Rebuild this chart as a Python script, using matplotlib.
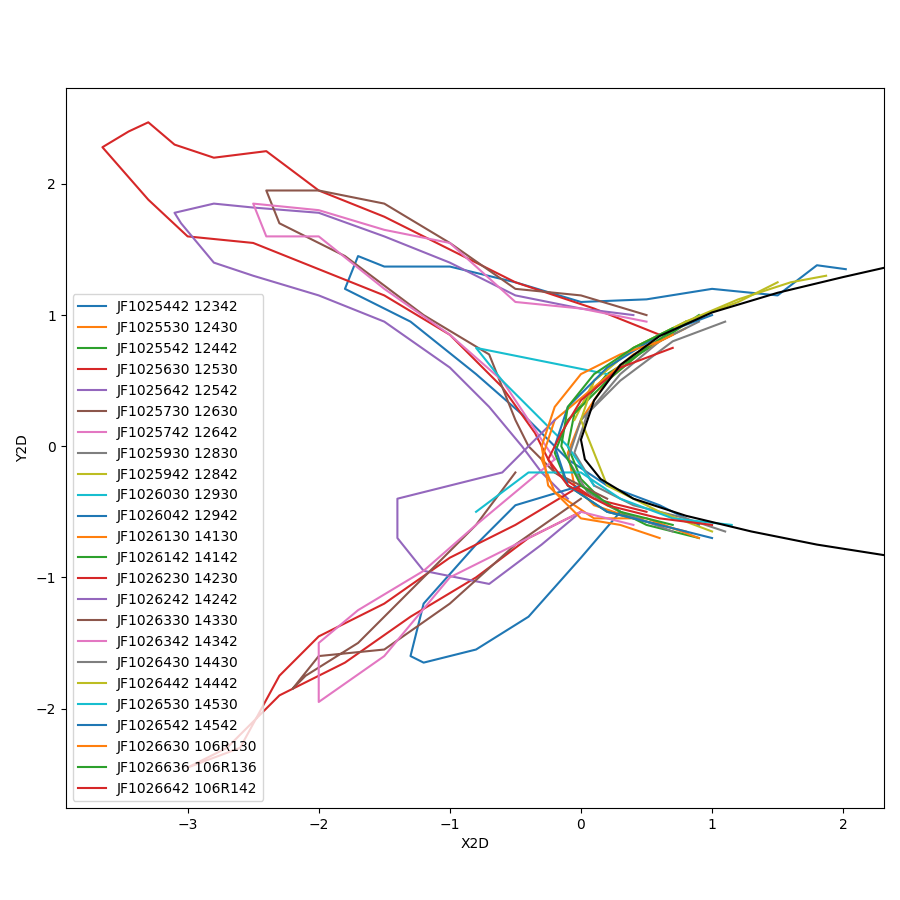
import matplotlib
matplotlib.use("Agg")
import matplotlib.pyplot as plt

labels = ["JF1025442 12342", "JF1025530 12430", "JF1025542 12442", "JF1025630 12530",
          "JF1025642 12542", "JF1025730 12630", "JF1025742 12642", "JF1025930 12830",
          "JF1025942 12842", "JF1026030 12930", "JF1026042 12942", "JF1026130 14130",
          "JF1026142 14142", "JF1026230 14230", "JF1026242 14242", "JF1026330 14330",
          "JF1026342 14342", "JF1026430 14430", "JF1026442 14442", "JF1026530 14530",
          "JF1026542 14542", "JF1026630 106R130", "JF1026636 106R136", "JF1026642 106R142"]

# rough trajectories (x list, y list)
tracks_x = [
    [2.02, 1.8, 1.5, 1.0, 0.5, 0.0, -0.5, -1.0, -1.5, -1.7, -1.8, -1.3, -0.8, -0.4, -0.1, 0.2, 0.6, 0.9],
    [0.8, 0.5, 0.2, 0.0, -0.1, -0.05, 0.1, 0.4, 0.8],
    [0.9, 0.6, 0.2, -0.05, -0.1, 0.0, 0.2, 0.5, 0.9],
    [0.6, 0.1, -0.5, -1.0, -1.5, -2.0, -2.4, -2.8, -3.1, -3.3, -3.45, -3.65, -3.3, -3.0, -2.5, -2.0, -1.5, -1.0, -0.6, -0.35, -0.2, 0.1, 0.5],
    [0.4, 0.0, -0.5, -1.0, -1.5, -2.0, -2.5, -2.8, -3.1, -3.05, -2.8, -2.5, -2.0, -1.5, -1.0, -0.7, -0.45, -0.3, -0.1],
    [0.5, 0.0, -0.5, -1.0, -1.5, -2.0, -2.4, -2.3, -1.8, -1.2, -0.7, -0.5, -0.4, -0.2, 0.2],
    [0.5, 0.0, -0.5, -1.0, -1.5, -2.0, -2.5, -2.4, -2.0, -1.5, -1.0, -0.6, -0.4, -0.2],
    [0.9, 0.6, 0.3, 0.05, -0.05, 0.1, 0.4, 0.8, 1.1],
    [1.87, 1.6, 1.2, 0.8, 0.4, 0.1, -0.05],
    [0.2, -0.3, -0.8, -0.6, -0.3, -0.1, 0.1],
    [0.0, -0.5, -0.8, -1.2, -1.3, -1.2, -0.8, -0.4, 0.0, 0.3],
    [0.7, 0.4, 0.1, -0.2, -0.3, -0.2, 0.1, 0.5, 0.9],
    [0.8, 0.5, 0.2, -0.1, -0.2, -0.1, 0.2, 0.6],
    [0.0, -0.5, -1.0, -1.5, -2.0, -2.3, -2.6, -3.0, -2.7, -2.3, -1.8, -1.3, -0.8, -0.4, 0.0],
    [0.0, -0.3, -0.7, -1.2, -1.4, -1.4, -1.0, -0.6, -0.4, -0.2],
    [0.0, -0.5, -1.0, -1.5, -2.0, -2.2, -2.1, -1.7, -1.2, -0.8, -0.5],
    [0.4, 0.0, -0.5, -1.0, -1.5, -2.0, -2.0, -1.7, -1.2, -0.8, -0.5, -0.2],
    [1.1, 0.7, 0.3, 0.0, -0.1, 0.05, 0.3, 0.7],
    [1.5, 1.2, 0.8, 0.4, 0.1, 0.0, 0.2, 0.6, 1.0],
    [1.15, 0.7, 0.3, 0.0, -0.4, -0.8],
    [1.0, 0.6, 0.2, -0.1, -0.2, -0.1, 0.2, 0.6, 1.0],
    [0.6, 0.3, 0.0, -0.2, -0.3, -0.25, 0.0, 0.3, 0.6],
    [0.7, 0.4, 0.1, -0.1, -0.15, 0.0, 0.3, 0.7],
    [0.7, 0.3, 0.0, -0.15, -0.25, -0.1, 0.2, 0.6, 1.0],
]
tracks_y = [
    [1.35, 1.38, 1.15, 1.2, 1.12, 1.1, 1.25, 1.37, 1.37, 1.45, 1.2, 0.95, 0.55, 0.2, -0.1, -0.3, -0.45, -0.6],
    [0.9, 0.75, 0.5, 0.2, -0.05, -0.3, -0.45, -0.55, -0.65],
    [1.0, 0.8, 0.55, 0.25, 0.0, -0.25, -0.45, -0.6, -0.7],
    [0.85, 1.05, 1.25, 1.5, 1.75, 1.95, 2.25, 2.2, 2.3, 2.47, 2.4, 2.28, 1.88, 1.6, 1.55, 1.35, 1.15, 0.85, 0.45, 0.1, -0.2, -0.4, -0.5],
    [1.0, 1.05, 1.15, 1.4, 1.6, 1.78, 1.82, 1.85, 1.78, 1.7, 1.4, 1.3, 1.15, 0.95, 0.6, 0.3, 0.0, -0.2, -0.4],
    [1.0, 1.15, 1.2, 1.55, 1.85, 1.95, 1.95, 1.7, 1.45, 1.0, 0.7, 0.2, 0.0, -0.2, -0.4],
    [0.95, 1.05, 1.1, 1.55, 1.65, 1.8, 1.85, 1.6, 1.6, 1.2, 0.85, 0.5, 0.2, -0.1],
    [0.95, 0.8, 0.55, 0.25, -0.05, -0.3, -0.45, -0.55, -0.65],
    [1.3, 1.25, 1.12, 0.95, 0.75, 0.5, 0.2],
    [0.55, 0.65, 0.75, 0.5, 0.2, 0.0, -0.3],
    [-0.3, -0.45, -0.75, -1.2, -1.6, -1.65, -1.55, -1.3, -0.85, -0.5],
    [0.85, 0.7, 0.45, 0.2, -0.1, -0.35, -0.55, -0.55, -0.7],
    [0.95, 0.75, 0.5, 0.2, -0.05, -0.3, -0.5, -0.6],
    [-0.3, -0.6, -0.85, -1.2, -1.45, -1.75, -2.3, -2.45, -2.3, -1.9, -1.65, -1.3, -1.0, -0.7, -0.5],
    [-0.5, -0.75, -1.05, -0.95, -0.7, -0.4, -0.3, -0.2, 0.0, 0.2],
    [-0.4, -0.75, -1.2, -1.55, -1.6, -1.85, -1.75, -1.5, -1.0, -0.6, -0.2],
    [-0.6, -0.5, -0.75, -1.0, -1.6, -1.95, -1.5, -1.25, -0.95, -0.6, -0.35, -0.1],
    [0.95, 0.8, 0.5, 0.2, -0.1, -0.35, -0.5, -0.65],
    [1.25, 1.1, 0.95, 0.75, 0.5, 0.2, -0.3, -0.5, -0.65],
    [-0.6, -0.55, -0.4, -0.2, -0.2, -0.5],
    [1.0, 0.85, 0.6, 0.3, 0.0, -0.3, -0.5, -0.6, -0.7],
    [0.8, 0.7, 0.55, 0.3, 0.0, -0.3, -0.55, -0.6, -0.7],
    [0.9, 0.75, 0.55, 0.3, 0.0, -0.3, -0.5, -0.6],
    [0.75, 0.6, 0.35, 0.1, -0.1, -0.3, -0.45, -0.55, -0.6],
]

# black boundary curve
curve_x = [2.31, 2.0, 1.5, 1.0, 0.6, 0.3, 0.1, 0.0, 0.03, 0.15, 0.4, 0.8, 1.3, 1.8, 2.31]
curve_y = [1.36, 1.29, 1.17, 1.02, 0.84, 0.62, 0.35, 0.05, -0.1, -0.25, -0.4, -0.53, -0.65, -0.75, -0.83]

fig = plt.figure(figsize=(9, 9), dpi=100)
ax = fig.add_subplot(111)
fig.subplots_adjust(left=0.073, right=0.982, top=0.902, bottom=0.102)

for lab, xs, ys in zip(labels, tracks_x, tracks_y):
    ax.plot(xs, ys, label=lab)
ax.plot(curve_x, curve_y, color='black')

ax.set_xlim(-3.93, 2.31)
ax.set_ylim(-2.76, 2.73)
ax.set_xlabel('X2D')
ax.set_ylabel('Y2D')
ax.legend(loc='lower left')

plt.savefig('out.png')
